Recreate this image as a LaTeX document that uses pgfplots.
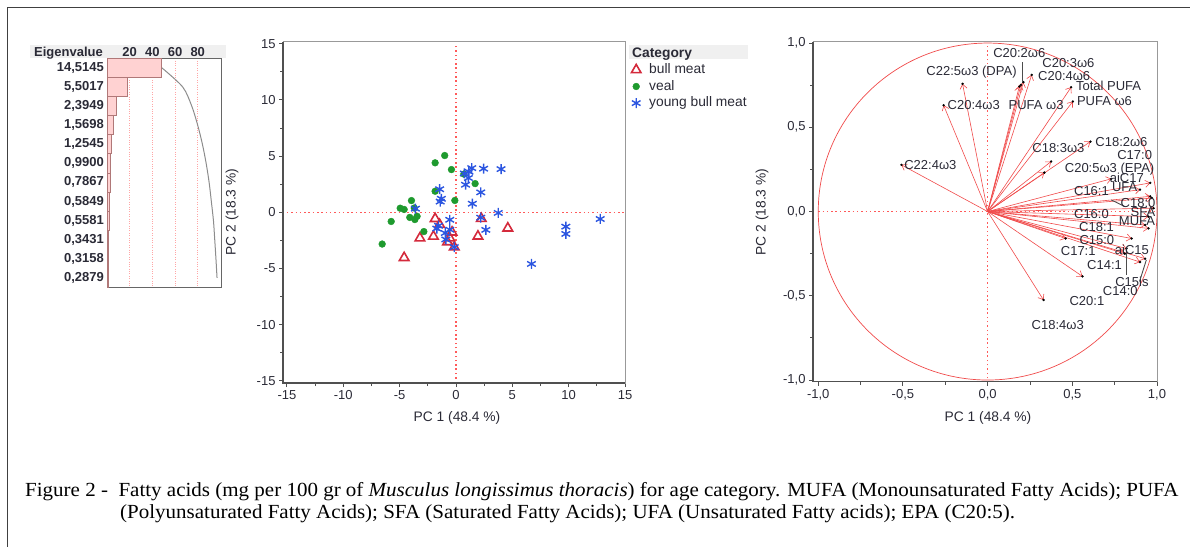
\documentclass[border=0pt]{standalone}
\usepackage{fontspec}
\setmainfont{Liberation Serif}
\newfontfamily\arial{Liberation Sans}
\usepackage{graphicx}
\usepackage{pgfplots}
\usepackage{pgfplotstable}
\pgfplotsset{compat=1.18}
\usetikzlibrary{arrows.meta}

\definecolor{bull}{HTML}{D42A3C}
\definecolor{veal}{HTML}{1E9A2E}
\definecolor{young}{HTML}{2B55E0}
\definecolor{vec}{HTML}{F04A4A}
\definecolor{refl}{HTML}{FF5A5A}
\definecolor{txt}{HTML}{2A2A36}
\definecolor{axl}{HTML}{505050}
\definecolor{barfill}{HTML}{FFD2D2}
\definecolor{baredge}{HTML}{B07878}

\newcommand\fs{\arial\fontsize{13bp}{15bp}\selectfont}
\newcommand\fl{\arial\fontsize{13.8bp}{16bp}\selectfont}

\pgfplotsset{
  panel/.style={
    scale only axis, clip mode=individual,
    axis line style={draw=black!40, line width=0.8bp},
    tick style={draw=axl, line width=0.9bp},
    tick align=outside, major tick length=4bp, minor tick length=3bp,
    xtick pos=left, ytick pos=left, minor tick num=1,
    tick label style={font=\fs, text=txt},
    /pgf/number format/assume math mode=true,
  },
}
\tikzset{lab/.style={font=\fs, text=txt, inner sep=0pt},
  refline/.style={refl, line width=1.5bp, dash pattern=on 1.5bp off 2.8bp}}

% score plot data (PC1, PC2)
\pgfplotstableread{
x y
-1.0 5.05
-1.85 4.4
-0.4 3.8
0.7 3.4
1.7 2.55
-1.85 1.87
-0.1 1.05
-3.95 1.04
-4.95 0.36
-4.6 0.25
-3.7 0.38
-4.1 -0.46
-3.65 -0.65
-3.45 -0.36
-5.75 -0.82
-2.85 -1.72
-6.55 -2.83
}\veal

\pgfplotstableread{
x y
-1.85 -0.58
-1.45 -1.1
-3.2 -2.3
-2.0 -2.15
-4.6 -4.05
-0.75 -2.65
-0.35 -1.78
-0.15 -3.1
1.95 -2.14
2.25 -0.57
4.6 -1.42
-0.55 -2.3
}\bull

\pgfplotstableread{
x y
1.4 3.93
2.45 3.88
4.0 3.84
0.75 3.45
1.1 3.05
1.15 3.6
0.85 2.45
2.2 1.77
1.45 0.76
-1.45 2.05
-1.3 1.2
-1.4 0.95
-3.6 0.32
3.75 -0.06
12.8 -0.6
9.75 -1.28
9.75 -1.93
6.7 -4.6
2.2 -0.48
2.65 -1.57
-0.55 -0.67
-1.55 -1.2
-1.7 -1.45
-0.95 -1.85
-0.9 -2.42
-0.15 -3.1
-0.55 -1.55
}\young

% loadings (PC1, PC2)
\pgfplotstableread{
x0 y0 x y
0 0 -0.509 0.277
0 0 -0.26 0.631
0 0 -0.148 0.758
0 0 0.211 0.768
0 0 0.197 0.752
0 0 0.26 0.811
0 0 0.187 0.742
0 0 0.493 0.738
0 0 0.503 0.653
0 0 0.607 0.415
0 0 0.375 0.297
0 0 0.335 0.231
0 0 0.96 0.17
0 0 0.73 0.194
0 0 0.96 0.09
0 0 0.9 0.13
0 0 0.97 0.08
0 0 0.98 0.02
0 0 0.95 -0.03
0 0 0.95 -0.1
0 0 0.93 -0.08
0 0 0.85 -0.16
0 0 0.46 -0.16
0 0 0.82 -0.22
0 0 0.81 -0.25
0 0 0.93 -0.28
0 0 0.9 -0.3
0 0 0.56 -0.385
0 0 0.33 -0.525
}\loadings

\begin{document}
\begin{tikzpicture}
\path[use as bounding box] (0,0) rectangle (1190bp,-547bp);
\draw[black!75, line width=1bp] (7.5bp,-547bp) -- (7.5bp,-7bp) -- (1190bp,-7bp);

% header backgrounds
\fill[black!6] (30bp,-44.5bp) rectangle (226bp,-58bp);
\fill[black!6] (629bp,-45bp) rectangle (748bp,-59bp);

% ---------- eigenvalue panel ----------
\begin{axis}[
  scale only axis, at={(107bp,-287.5bp)}, anchor=south west,
  width=114bp, height=229.2bp,
  xmin=0, xmax=100.5, ymin=0.5, ymax=12.5, y dir=reverse,
  xtick={20,40,60,80}, xticklabel pos=upper,
  ytick={1,...,12},
  yticklabels={{14,5145},{5,5017},{2,3949},{1,5698},{1,2545},{0,9900},{0,7867},{0,5849},{0,5581},{0,3431},{0,3158},{0,2879}},
  major tick length=0pt,
  xmajorgrids, grid style={dotted, line width=1bp, color=red!35},
  axis line style={draw=black!60, line width=1bp},
  tick label style={font=\fs\bfseries, text=txt},
  xticklabel style={inner sep=1.5bp},
  yticklabel style={inner sep=3bp},
  /pgf/number format/assume math mode=true,
  bar width=19.1bp,
]
\addplot[xbar, fill=barfill, draw=baredge, line width=0.8bp] coordinates {
 (48.38,1) (18.34,2) (7.98,3) (5.23,4) (4.18,5) (3.30,6) (2.62,7) (1.95,8) (1.86,9) (1.14,10) (1.05,11) (0.96,12)};
\addplot[black!45, line width=1bp, smooth] coordinates {
 (48.38,1) (66.72,2) (74.70,3) (79.94,4) (84.12,5) (87.42,6) (90.04,7) (91.99,8) (93.85,9) (94.99,10) (96.05,11) (97.01,12)};
\end{axis}
\node[anchor=base east, font=\fs\bfseries, text=txt, inner sep=0pt] at (103bp,-56bp) {Eigenvalue};

% ---------- score plot ----------
\begin{axis}[
  panel, at={(283bp,-383bp)}, anchor=south west,
  width=342bp, height=341.5bp,
  xmin=-15.35, xmax=15, ymin=-15.2, ymax=15.2,
  xtick={-15,-10,...,15}, ytick={-15,-10,...,15},
  legend style={at={(1,1)}, anchor=north west, xshift=4bp, yshift=-20bp,
    draw=none, fill=none, font=\fl, text=txt, inner sep=1bp, row sep=2.2bp,
    nodes={inner sep=1bp, text height=9.8bp, text depth=2.6bp}},
  legend cell align=left,
  legend image code/.code={\path[draw=none, fill=none] (0bp,0bp) (18bp,0bp); \draw[#1] plot coordinates {(6bp,0bp)};},
]
\draw[refline] (axis cs:0,-14.8) -- (axis cs:0,14.8);
\draw[refline] (axis cs:-15,0) -- (axis cs:15,0);
\addplot[only marks, mark=triangle, mark size=5.5bp, draw=bull, line width=1.6bp] table {\bull};
\addplot[only marks, mark=*, mark size=3.4bp, draw=veal, fill=veal] table {\veal};
\addplot[only marks, mark=asterisk, mark size=5bp, draw=young, line width=1.4bp] table {\young};
\legend{bull meat, veal, young bull meat}
\draw[axl, line width=1.4bp] (rel axis cs:0,1) -- (rel axis cs:0,0) -- (rel axis cs:1,0);
\end{axis}
\node[anchor=base west, font=\fl\bfseries, text=txt, inner sep=0pt] at (632bp,-57bp) {Category};
\node[font=\fl, text=txt] at (457bp,-418bp) {PC 1 (48.4 \%)};
\node[font=\fl, text=txt, rotate=90] at (232bp,-212bp) {PC 2 (18.3 \%)};

% ---------- loading plot ----------
\begin{axis}[
  panel, at={(813bp,-381.7bp)}, anchor=south west,
  width=344bp, height=340bp,
  xmin=-1.031, xmax=1.0, ymin=-1.01, ymax=1.008,
  xtick={-1,-0.5,...,1}, ytick={-1,-0.5,...,1},
  /pgf/number format/.cd, use comma, fixed, fixed zerofill, precision=1,
]
\draw[refline] (axis cs:0,-0.99) -- (axis cs:0,0.99);
\draw[refline] (axis cs:-1,0) -- (axis cs:0.99,0);
\draw[vec, line width=0.7bp] (axis cs:0,0) ellipse [x radius=1, y radius=1];
\addplot[vec, line width=0.6bp, -{Straight Barb[length=4.5bp,width=7bp]},
  quiver={u=\thisrow{x}, v=\thisrow{y}}] table[x=x0, y=y0] {\loadings};
\addplot[only marks, mark=*, mark size=1bp, black] table[x=x, y=y] {\loadings};
% leader lines
\draw[black!70, line width=0.9bp] (axis cs:0.207,0.77) -- (axis cs:0.207,0.89);
\draw[black!70, line width=0.9bp] (axis cs:0.819,-0.208) -- (axis cs:0.819,-0.376);
\draw[black!70, line width=0.9bp] (axis cs:0.937,-0.287) -- (axis cs:0.897,-0.415);
\draw[black!70, line width=0.9bp] (axis cs:0.73,0.069) -- (axis cs:0.809,0.03);
% labels
\node[lab, anchor=west] at (axis cs:-0.493,0.277) {C22:4ω3};
\node[lab, anchor=west] at (axis cs:-0.237,0.631) {C20:4ω3};
\node[lab] at (axis cs:0.286,0.631) {PUFA ω3};
\node[lab] at (axis cs:-0.095,0.827) {C22:5ω3 (DPA)};
\node[lab] at (axis cs:0.187,0.94) {C20:2ω6};
\node[lab] at (axis cs:0.477,0.88) {C20:3ω6};
\node[lab] at (axis cs:0.452,0.807) {C20:4ω6};
\node[lab] at (axis cs:0.714,0.746) {Total PUFA};
\node[lab] at (axis cs:0.69,0.653) {PUFA ω6};
\node[lab] at (axis cs:0.79,0.415) {C18:2ω6};
\node[lab] at (axis cs:0.418,0.376) {C18:3ω3};
\node[lab] at (axis cs:0.868,0.336) {C17:0};
\node[lab] at (axis cs:0.72,0.251) {C20:5ω3 (EPA)};
\node[lab] at (axis cs:0.822,0.198) {aiC17};
\node[lab] at (axis cs:0.809,0.148) {UFA};
\node[lab] at (axis cs:0.613,0.119) {C16:1};
\node[lab] at (axis cs:0.888,0.053) {C18:0};
\node[lab] at (axis cs:0.917,0.0) {SFA};
\node[lab] at (axis cs:0.613,-0.016) {C16:0};
\node[lab] at (axis cs:0.882,-0.059) {MUFA};
\node[lab] at (axis cs:0.643,-0.089) {C18:1};
\node[lab] at (axis cs:0.645,-0.168) {C15:0};
\node[lab] at (axis cs:0.852,-0.227) {aiC15};
\node[lab] at (axis cs:0.535,-0.237) {C17:1};
\node[lab] at (axis cs:0.69,-0.317) {C14:1};
\node[lab] at (axis cs:0.852,-0.419) {C15is};
\node[lab] at (axis cs:0.783,-0.469) {C14:0};
\node[lab] at (axis cs:0.586,-0.534) {C20:1};
\node[lab] at (axis cs:0.414,-0.673) {C18:4ω3};
\draw[axl, line width=1.4bp] (rel axis cs:0,1) -- (rel axis cs:0,0) -- (rel axis cs:1,0);
\end{axis}
\node[font=\fl, text=txt] at (988bp,-418bp) {PC 1 (48.4 \%)};
\node[font=\fl, text=txt, rotate=90] at (762bp,-212bp) {PC 2 (18.3 \%)};

% ---------- caption ----------
\node[anchor=base west, inner sep=0pt] at (25bp,-496bp)
  {\scalebox{1.05}[1]{\fontsize{20bp}{24bp}\selectfont Figure 2 -\ \ Fatty acids (mg per 100 gr of \textit{Musculus longissimus thoracis}) for age category. MUFA (Monounsaturated Fatty Acids); PUFA}};
\node[anchor=base west, inner sep=0pt] at (120bp,-518bp)
  {\scalebox{1.05}[1]{\fontsize{20bp}{24bp}\selectfont (Polyunsaturated Fatty Acids); SFA (Saturated Fatty Acids); UFA (Unsaturated Fatty acids); EPA (C20:5).}};
\end{tikzpicture}
\end{document}
